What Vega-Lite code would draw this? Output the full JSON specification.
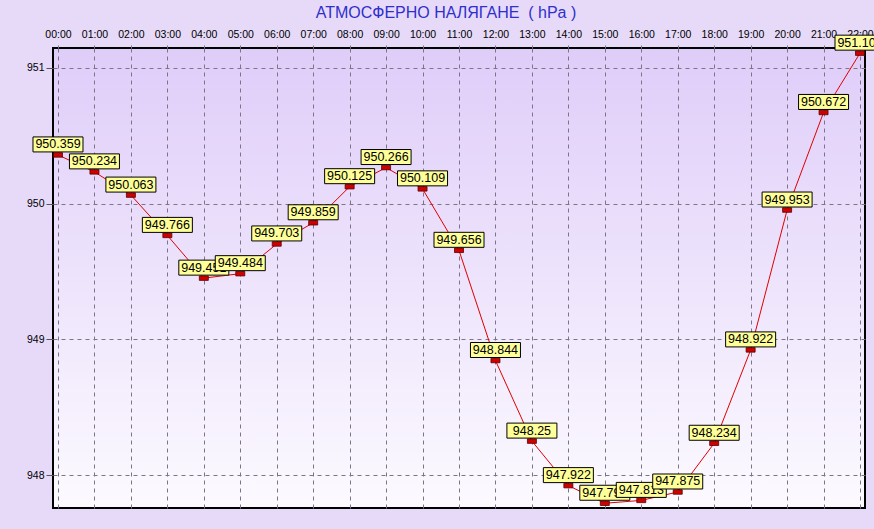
{
  "$schema": "https://vega.github.io/schema/vega-lite/v6.json",
  "width": 812,
  "height": 460,
  "autosize": "none",
  "padding": {"left": 53, "top": 48, "right": 9, "bottom": 21},
  "background": "#e6daf8",
  "title": {
    "text": "АТМОСФЕРНО НАЛЯГАНЕ\u00a0 ( hPa )",
    "font": "Liberation Sans",
    "fontSize": 16,
    "fontWeight": "normal",
    "color": "#2f2fcc",
    "anchor": "middle",
    "dx": -13,
    "offset": 8
  },
  "config": {
    "view": {
      "stroke": "#000000",
      "strokeWidth": 2,
      "fill": {
        "gradient": "linear",
        "x1": 0, "y1": 0, "x2": 0, "y2": 1,
        "stops": [
          {"offset": 0, "color": "#dfcdf9"},
          {"offset": 1, "color": "#fcfaff"}
        ]
      }
    },
    "axis": {
      "labelFont": "Liberation Sans",
      "labelFontSize": 10.5,
      "labelColor": "#000000",
      "domain": false,
      "grid": true,
      "gridColor": "#7c7488",
      "gridDash": [4, 4],
      "gridWidth": 1,
      "gridOpacity": 1,
      "title": null
    }
  },
  "data": {
    "values": [
      {"time": "00:00", "value": 950.359},
      {"time": "01:00", "value": 950.234},
      {"time": "02:00", "value": 950.063},
      {"time": "03:00", "value": 949.766},
      {"time": "04:00", "value": 949.451},
      {"time": "05:00", "value": 949.484},
      {"time": "06:00", "value": 949.703},
      {"time": "07:00", "value": 949.859},
      {"time": "08:00", "value": 950.125},
      {"time": "09:00", "value": 950.266},
      {"time": "10:00", "value": 950.109},
      {"time": "11:00", "value": 949.656},
      {"time": "12:00", "value": 948.844},
      {"time": "13:00", "value": 948.25},
      {"time": "14:00", "value": 947.922},
      {"time": "15:00", "value": 947.792},
      {"time": "16:00", "value": 947.813},
      {"time": "17:00", "value": 947.875},
      {"time": "18:00", "value": 948.234},
      {"time": "19:00", "value": 948.922},
      {"time": "20:00", "value": 949.953},
      {"time": "21:00", "value": 950.672},
      {"time": "22:00", "value": 951.109}
    ]
  },
  "encoding": {
    "x": {
      "field": "time",
      "type": "ordinal",
      "sort": null,
      "scale": {"type": "point", "padding": 0.137},
      "axis": {
        "orient": "top",
        "labelAngle": 0,
        "ticks": true,
        "tickSize": 6,
        "tickColor": "#7c7488",
        "tickDash": [3, 3],
        "labelPadding": 3
      }
    },
    "y": {
      "field": "value",
      "type": "quantitative",
      "scale": {"domain": [947.757, 951.147], "zero": false, "nice": false},
      "axis": {
        "values": [948, 949, 950, 951],
        "format": "d",
        "ticks": true,
        "tickSize": 7,
        "tickColor": "#555555",
        "labelPadding": 2
      }
    }
  },
  "layer": [
    {"mark": {"type": "line", "color": "#e00000", "strokeWidth": 1}},
    {
      "mark": {
        "type": "point",
        "shape": "M-1,-0.5H1V0.5H-1Z",
        "size": 81,
        "filled": true,
        "fill": "#d00000",
        "stroke": "#5a0000",
        "strokeWidth": 0.8,
        "opacity": 1
      }
    },
    {
      "transform": [{"filter": {"not": {"field": "time", "oneOf": ["05:00", "16:00", "17:00"]}}}],
      "layer": [
        {
          "mark": {
            "type": "point",
            "shape": "M-1,-0.72H1V-0.12H-1Z",
            "size": 2500,
            "filled": true,
            "fill": "#ffff99",
            "stroke": "#000000",
            "strokeWidth": 1,
            "opacity": 1
          }
        },
        {
          "mark": {"type": "text", "dy": -10.5, "font": "Liberation Sans", "fontSize": 12.5, "color": "#000000", "baseline": "middle", "align": "center"},
          "encoding": {"text": {"field": "value", "type": "nominal"}}
        }
      ]
    },
    {
      "transform": [{"filter": {"field": "time", "oneOf": ["05:00", "16:00"]}}],
      "layer": [
        {
          "mark": {
            "type": "point",
            "shape": "M-1,-0.72H1V-0.12H-1Z",
            "size": 2500,
            "filled": true,
            "fill": "#ffff99",
            "stroke": "#000000",
            "strokeWidth": 1,
            "opacity": 1
          }
        },
        {
          "mark": {"type": "text", "dy": -10.5, "font": "Liberation Sans", "fontSize": 12.5, "color": "#000000", "baseline": "middle", "align": "center"},
          "encoding": {"text": {"field": "value", "type": "nominal"}}
        }
      ]
    },
    {
      "transform": [{"filter": {"field": "time", "oneOf": ["17:00"]}}],
      "layer": [
        {
          "mark": {
            "type": "point",
            "shape": "M-1,-0.72H1V-0.12H-1Z",
            "size": 2500,
            "filled": true,
            "fill": "#ffff99",
            "stroke": "#000000",
            "strokeWidth": 1,
            "opacity": 1
          }
        },
        {
          "mark": {"type": "text", "dy": -10.5, "font": "Liberation Sans", "fontSize": 12.5, "color": "#000000", "baseline": "middle", "align": "center"},
          "encoding": {"text": {"field": "value", "type": "nominal"}}
        }
      ]
    }
  ]
}
